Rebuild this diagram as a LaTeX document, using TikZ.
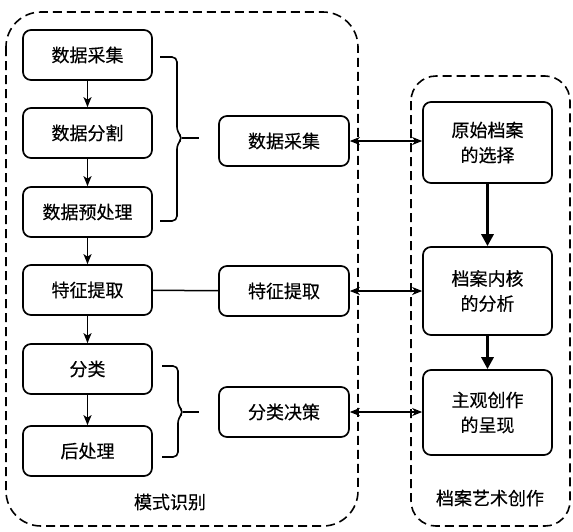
\documentclass[tikz,border=0pt]{standalone}
\usepackage{fontspec}
\setmainfont{Noto Sans CJK SC}[FakeBold=0.4]
\usetikzlibrary{arrows.meta}
\begin{document}
\begin{tikzpicture}[x=1pt,y=-1pt,
  box/.style={draw,line width=1.7pt,rounded corners=8pt,minimum width=129pt,inner sep=0pt,align=center,font=\fontsize{18}{25}\selectfont},
  lbox/.style={box,minimum height=50pt},
  rbox/.style={box},
  container/.style={draw,line width=1.6pt,dash pattern=on 9pt off 5pt},
  flow/.style={line width=1.5pt,-{Stealth[length=10pt,width=8pt,inset=2.5pt]}},
  thick flow/.style={line width=3.5pt,-{Triangle[length=12pt,width=12pt]}},
  link/.style={line width=1.5pt,{Stealth[length=10pt,width=8pt,inset=3pt]}-{Stealth[length=10pt,width=8pt,inset=3pt]}},
  brace/.style={line width=1.6pt,rounded corners=5pt},
  lab/.style={font=\fontsize{18}{21}\selectfont}
]
\useasboundingbox (0,0) rectangle (573,531);
\draw[container,rounded corners=35pt] (6,12) rectangle (358,526);
\draw[container,rounded corners=25pt] (411,76) rectangle (570,526);

\node[lbox] (a1) at (87.5,55) {数据采集};
\node[lbox] (a2) at (87.5,133) {数据分割};
\node[lbox] (a3) at (87.5,212) {数据预处理};
\node[lbox] (a4) at (87.5,290) {特征提取};
\node[lbox] (a5) at (87.5,369) {分类};
\node[lbox] (a6) at (87.5,451) {后处理};

\node[lbox,minimum width=130pt] (m1) at (284,141) {数据采集};
\node[lbox,minimum width=130pt] (m2) at (284,291) {特征提取};
\node[lbox,minimum width=130pt] (m3) at (284,412) {分类决策};

\node[rbox,minimum height=81pt] (r1) at (487.5,142.5) {原始档案\\的选择};
\node[rbox,minimum height=88pt] (r2) at (487.5,291) {档案内核\\的分析};
\node[rbox,minimum height=85pt] (r3) at (487.5,412.5) {主观创作\\的呈现};

\node[lab] (l1) at (170,502) {模式识别};
\node[lab] (l2) at (490,498) {档案艺术创作};

\draw[flow] (a1) -- (a2);
\draw[flow] (a2) -- (a3);
\draw[flow] (a3) -- (a4);
\draw[flow] (a4) -- (a5);
\draw[flow] (a5) -- (a6);

\draw[line width=1.5pt] (a4) -- (m2);

\draw[link] (m1.east) -- (m1.east -| r1.west);
\draw[link] (m2.east) -- (m2.east -| r2.west);
\draw[link] (m3.east) -- (m3.east -| r3.west);

\draw[thick flow] (r1) -- (r2);
\draw[thick flow] (r2) -- (r3);

\coordinate (b1) at (199,138);
\coordinate (b2) at (199,412);
\draw[brace] (160,57) -- (177,57) -- (177,132) -- (183,138) -- (177,144) -- (177,221) -- (160,221);
\draw[line width=1.6pt] (182,138) -- (b1);
\draw[brace] (162,366) -- (178,366) -- (178,406) -- (184,412) -- (178,418) -- (178,457) -- (162,457);
\draw[line width=1.6pt] (183,412) -- (b2);
\end{tikzpicture}
\end{document}
